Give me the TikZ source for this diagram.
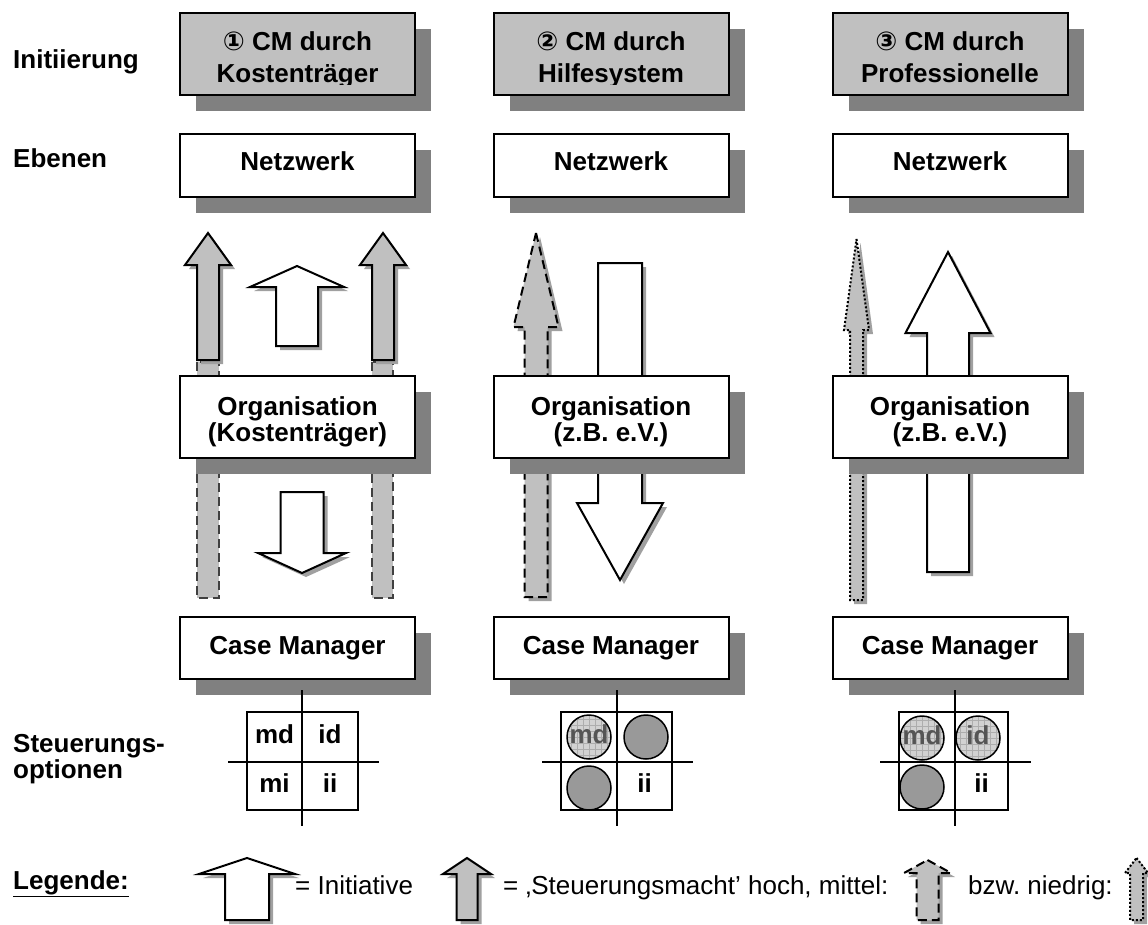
\documentclass[tikz,border=0pt]{standalone}
\usepackage{fontspec}
\setmainfont{Liberation Sans}
\newfontfamily\dejavu{DejaVu Sans}
\usetikzlibrary{shadows}
\frenchspacing
\definecolor{shadowgray}{HTML}{808080}
\definecolor{arrowshadow}{HTML}{A0A0A0}
\definecolor{lightfill}{HTML}{C0C0C0}
\definecolor{circgray}{HTML}{999999}
\definecolor{dashgray}{HTML}{404040}
\definecolor{patfill}{HTML}{D2D2D2}
\definecolor{patline}{HTML}{ADADAD}
\definecolor{pattext}{HTML}{555555}
\newcommand\apath[6]{(#1,#2) -- (#1+#3,#4) -- (#1+#5,#4) -- (#1+#5,#6) -- (#1-#5,#6) -- (#1-#5,#4) -- (#1-#3,#4) -- cycle}
\newcommand\sharrow[7]{\fill[ashadow, shift={(4,4)}] \apath{#2}{#3}{#4}{#5}{#6}{#7}; \path[#1] \apath{#2}{#3}{#4}{#5}{#6}{#7};}
\newcommand\patcirc[3]{%
  \begin{scope}
    \clip (#1,#2) circle (22);
    \fill[patfill] (#1,#2) circle (22);
    \foreach \d in {-18,-12,...,18} {
      \draw[patline, line width=0.6pt] (#1+\d,#2-22) -- (#1+\d,#2+22);
      \draw[patline, line width=0.6pt] (#1-22,#2+\d) -- (#1+22,#2+\d);
    }
    \node[lbl, text=pattext] at (#1,#2+6) {#3};
  \end{scope}
  \draw[line width=1.5pt] (#1,#2) circle (22);}
\newcommand\darkcirc[2]{\draw[line width=1.5pt, fill=circgray] (#1,#2) circle (22);}
\tikzset{
  box/.style={draw=black, line width=2pt, fill=white, inner sep=0pt, minimum width=235pt,
    drop shadow={shadow xshift=16pt, shadow yshift=-16pt, fill=shadowgray, opacity=1}},
  topbox/.style={box, fill=lightfill},
  lbl/.style={font=\bfseries\fontsize{26}{30}\selectfont, anchor=base, inner sep=0pt},
  lblw/.style={lbl, anchor=base west},
  txt/.style={font=\fontsize{26}{30}\selectfont, anchor=base west, inner sep=0pt},
  arrowline/.style={draw=black, line width=2pt, line join=miter},
  whitearr/.style={arrowline, fill=white},
  grayarr/.style={arrowline, fill=lightfill},
  dasharr/.style={grayarr, dash pattern=on 9pt off 5pt},
  dotarr/.style={grayarr, dash pattern=on 2pt off 2pt},
  dashrect/.style={fill=lightfill, draw=dashgray, line width=2pt, dash pattern=on 9pt off 5pt},
  ashadow/.style={fill=arrowshadow, draw=none},
  gridline/.style={line width=1.5pt}
}
\begin{document}
\begin{tikzpicture}[x=1pt, y=-1pt]
\useasboundingbox (0,0) rectangle (1148,924);
\fill[white] (0,0) rectangle (1148,924);

% ---- arrows (behind boxes) ----
% column 1
\path[dashrect] (197,362) rectangle (219,598);
\path[dashrect] (372,362) rectangle (393,598);
\sharrow{grayarr}{208}{233}{23}{265}{11}{360}
\sharrow{grayarr}{383}{233}{23}{265}{11}{360}
\sharrow{whitearr}{297}{266}{47}{287}{21}{346}
\sharrow{whitearr}{302}{573}{44}{553}{21.5}{492}
% column 2
\sharrow{dasharr}{536}{233}{22.5}{327}{11.5}{597}
\sharrow{whitearr}{620}{580}{43}{503}{22}{263}
% column 3
\sharrow{dotarr}{856.5}{239}{12.5}{330}{6.5}{600}
\sharrow{whitearr}{948}{252}{42.5}{333}{21}{572}

% ---- boxes ----
\node[topbox, minimum height=82pt] (t1) at (297.5,54) {};
\node[topbox, minimum height=82pt] (t2) at (611,54) {};
\node[topbox, minimum height=82pt] (t3) at (950,54) {};
\begin{scope}
  \clip (180,13) rectangle (1068,84);
  \node[lbl] (t1a) at (297.5,50) {{\dejavu ①} CM durch};
  \node[lbl] (t1b) at (297.5,82) {Kostenträger};
  \node[lbl] (t2a) at (611,50) {{\dejavu ②} CM durch};
  \node[lbl] (t2b) at (611,82) {Hilfesystem};
  \node[lbl] (t3a) at (950,50) {{\dejavu ③} CM durch};
  \node[lbl] (t3b) at (950,82) {Professionelle};
\end{scope}

\node[box, minimum height=63pt] (n1) at (297.5,165.5) {};
\node[box, minimum height=63pt] (n2) at (611,165.5) {};
\node[box, minimum height=63pt] (n3) at (950,165.5) {};
\node[lbl] (n1t) at (297.5,170) {Netzwerk};
\node[lbl] (n2t) at (611,170) {Netzwerk};
\node[lbl] (n3t) at (950,170) {Netzwerk};

\node[box, minimum height=82pt] (o1) at (297.5,417) {};
\node[box, minimum height=82pt] (o2) at (611,417) {};
\node[box, minimum height=82pt] (o3) at (950,417) {};
\node[lbl] (o1a) at (297.5,415) {Organisation};
\node[lbl] (o1b) at (297.5,441) {(Kostenträger)};
\node[lbl] (o2a) at (611,415) {Organisation};
\node[lbl] (o2b) at (611,441) {(z.B. e.V.)};
\node[lbl] (o3a) at (950,415) {Organisation};
\node[lbl] (o3b) at (950,441) {(z.B. e.V.)};

\node[box, minimum height=62pt] (c1) at (297.5,648) {};
\node[box, minimum height=62pt] (c2) at (611,648) {};
\node[box, minimum height=62pt] (c3) at (950,648) {};
\node[lbl] (c1t) at (297.5,654) {Case Manager};
\node[lbl] (c2t) at (611,654) {Case Manager};
\node[lbl] (c3t) at (950,654) {Case Manager};

% ---- row labels ----
\node[lblw] (l1) at (13,68) {Initiierung};
\node[lblw] (l2) at (13,167) {Ebenen};
\node[lblw] (l3) at (13,752) {Steuerungs-};
\node[lblw] (l4) at (13,778) {optionen};
\node[lblw] (l5) at (13,889) {\underline{Legende:}};

% ---- grids ----
% grid 1
\draw[gridline] (247,712) rectangle (358,810);
\draw[gridline] (302,690) -- (302,826);
\draw[gridline] (228,762) -- (379,762);
\node[lbl] (g1a) at (274.5,743) {md};
\node[lbl] (g1b) at (330,743) {id};
\node[lbl] (g1c) at (274.5,792) {mi};
\node[lbl] (g1d) at (330,792) {ii};
% grid 2
\draw[gridline] (561,712) rectangle (672,810);
\draw[gridline] (617,690) -- (617,826);
\draw[gridline] (542,762) -- (693,762);
\patcirc{589}{737}{md}
\darkcirc{646}{737}
\darkcirc{589}{788}
\node[lbl] (g2d) at (644.5,792) {ii};
% grid 3
\draw[gridline] (899,712) rectangle (1008,810);
\draw[gridline] (955,690) -- (955,826);
\draw[gridline] (880,762) -- (1031,762);
\patcirc{922}{738}{md}
\patcirc{978}{738}{id}
\darkcirc{922}{787}
\node[lbl] (g3d) at (981.5,792) {ii};

% ---- legend ----
\sharrow{whitearr}{247}{858}{48}{874}{22}{920}
\node[txt] (lg1) at (295,894) {= Initiative};
\sharrow{grayarr}{467}{858}{24}{874}{10.5}{920}
\node[txt] (lg2) at (503,894) {= ‚Steuerungsmacht’ hoch, mittel:};
\sharrow{dasharr}{927.5}{860}{23.5}{873}{11}{920}
\node[txt] (lg3) at (968,894) {bzw. niedrig:};
\sharrow{dotarr}{1136.5}{858}{11.5}{873}{6.5}{920}
\end{tikzpicture}
\end{document}
